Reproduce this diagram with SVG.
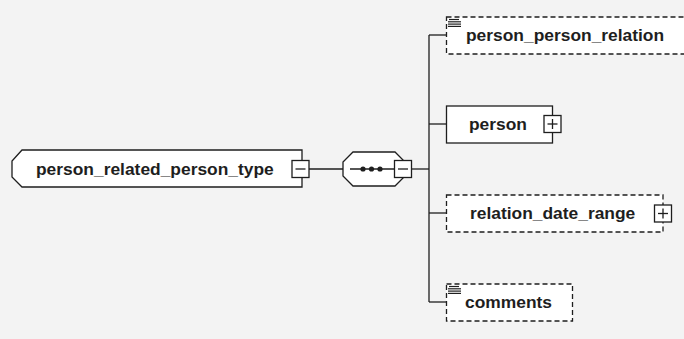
<svg xmlns="http://www.w3.org/2000/svg" width="684" height="339" viewBox="0 0 684 339">
<style>
.bg{fill:#f3f3f3}
.node{fill:#ffffff;stroke:#1e1e1e;stroke-width:1.3}
.opt{stroke-dasharray:5 3}
.lbl{font-family:"Liberation Sans",Arial,sans-serif;font-weight:bold;font-size:17.4px;fill:#1e1e1e}
.btn{fill:#ffffff;stroke:#1e1e1e;stroke-width:1.3}
.sym{stroke:#1e1e1e;stroke-width:1.3;fill:none}
.conn{stroke:#1e1e1e;stroke-width:1.3;fill:none}
.doc{stroke:#1e1e1e;stroke-width:1.2}
</style>
<rect class="bg" x="0" y="0" width="684" height="339"/>
<g id="connectors">
<line class="conn" x1="309" y1="169" x2="344" y2="169"/>
<line class="conn" x1="412" y1="169" x2="429" y2="169"/>
<line class="conn" x1="429" y1="35" x2="429" y2="302"/>
<line class="conn" x1="429" y1="35" x2="446" y2="35"/>
<line class="conn" x1="429" y1="124" x2="446" y2="124"/>
<line class="conn" x1="429" y1="213" x2="446" y2="213"/>
<line class="conn" x1="429" y1="302" x2="446" y2="302"/>
</g>
<g id="person_related_person_type">
<polygon class="node" points="22,150 302,150 302,187 22,187 12,177 12,161"/>
<text class="lbl" x="36" y="175">person_related_person_type</text>
<rect class="btn" x="292" y="160.5" width="17" height="17"/>
<line class="sym" x1="295.5" y1="169" x2="305.5" y2="169"/>
</g>
<g id="sequence">
<polygon class="node" points="353,152 395,152 404,161 404,177 395,186 353,186 343,176 343,162"/>
<line class="sym" x1="350" y1="169" x2="394" y2="169"/>
<circle cx="363" cy="169" r="2.6" fill="#1e1e1e"/>
<circle cx="371.5" cy="169" r="2.6" fill="#1e1e1e"/>
<circle cx="380" cy="169" r="2.6" fill="#1e1e1e"/>
<rect class="btn" x="394.5" y="160.5" width="17" height="17"/>
<line class="sym" x1="398" y1="169" x2="408" y2="169"/>
</g>
<g id="person_person_relation">
<rect class="node opt" x="446.5" y="17" width="245" height="37"/>
<line class="doc" x1="449" y1="19.5" x2="459" y2="19.5"/>
<line class="doc" x1="448" y1="21.8" x2="461" y2="21.8"/>
<line class="doc" x1="448" y1="24.1" x2="461" y2="24.1"/>
<line class="doc" x1="448" y1="26.4" x2="461" y2="26.4"/>
<text class="lbl" x="466" y="41">person_person_relation</text>
</g>
<g id="person">
<rect class="node" x="446.5" y="106" width="106" height="37"/>
<text class="lbl" x="469" y="130">person</text>
<rect class="btn" x="544" y="115.5" width="17" height="17"/>
<line class="sym" x1="547.5" y1="124" x2="557.5" y2="124"/>
<line class="sym" x1="552.5" y1="119" x2="552.5" y2="129"/>
</g>
<g id="relation_date_range">
<rect class="node opt" x="446.5" y="195" width="216.5" height="37"/>
<text class="lbl" x="470" y="219">relation_date_range</text>
<rect class="btn" x="654.5" y="205" width="17" height="17"/>
<line class="sym" x1="658" y1="213.5" x2="668" y2="213.5"/>
<line class="sym" x1="663" y1="208.5" x2="663" y2="218.5"/>
</g>
<g id="comments">
<rect class="node opt" x="446.5" y="284" width="126" height="37"/>
<line class="doc" x1="449" y1="286.5" x2="459" y2="286.5"/>
<line class="doc" x1="448" y1="288.8" x2="461" y2="288.8"/>
<line class="doc" x1="448" y1="291.1" x2="461" y2="291.1"/>
<line class="doc" x1="448" y1="293.4" x2="461" y2="293.4"/>
<text class="lbl" x="465" y="308">comments</text>
</g>
</svg>
